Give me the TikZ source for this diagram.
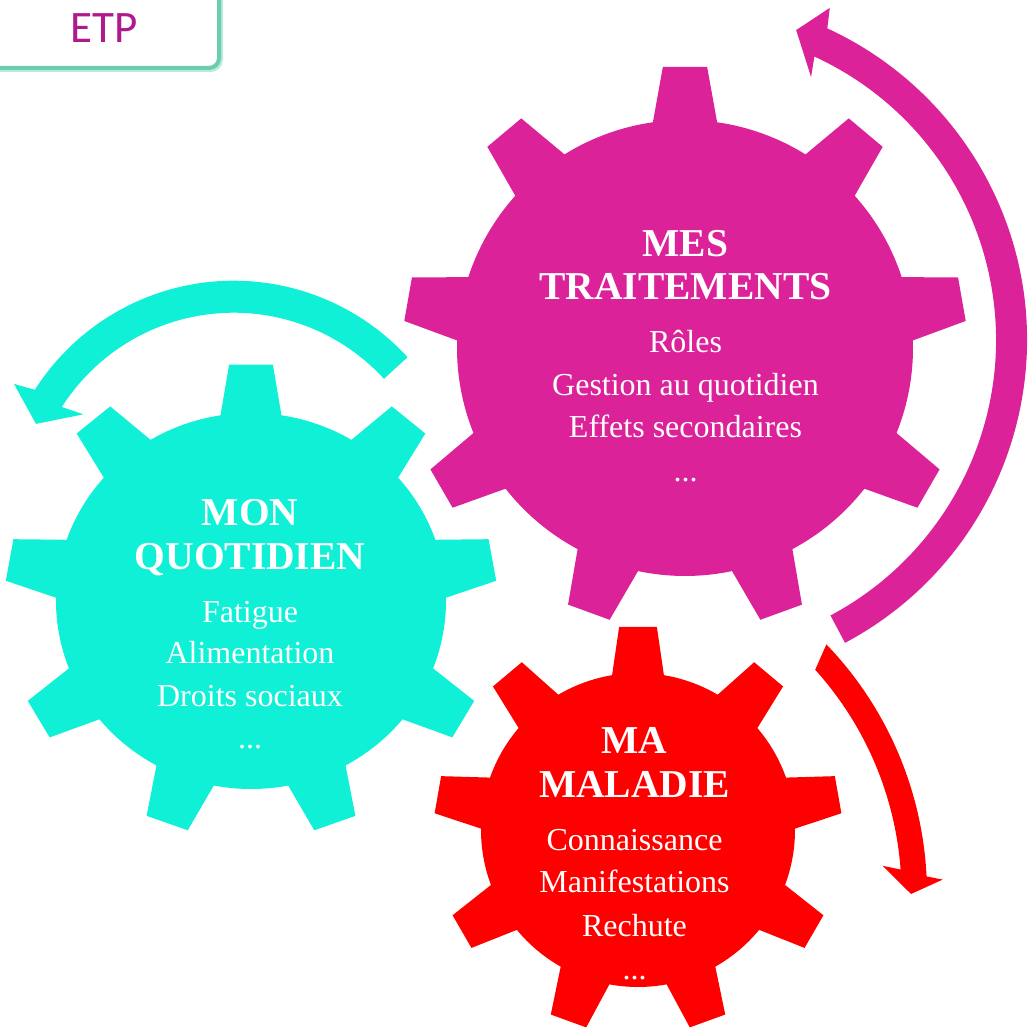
\documentclass[tikz,border=0pt]{standalone}
\usepackage{fontspec}
\setmainfont{Liberation Serif}
\newfontfamily\etpfont{Carlito}
\definecolor{gmag}{RGB}{220,34,153}
\definecolor{gcyan}{RGB}{16,240,214}
\definecolor{gred}{RGB}{255,0,0}
\definecolor{etpborder}{RGB}{105,205,175}
\definecolor{etpshadow}{RGB}{190,232,220}
\definecolor{etptext}{RGB}{176,26,140}
% #1 colour, #2 cx, #3 cy, #4 rx, #5 ry, #6 outer factor, #7 base half angle, #8 outer half angle
\newcommand{\mygear}[8]{%
  \begin{scope}[shift={(#2,#3)}, xscale=#4, yscale=#5]
    \fill[#1] (90+#7:1) \foreach \a in {90,50,...,-230} {
      -- (\a+#7:1) -- (\a+#8:#6) -- (\a-#8:#6) -- (\a-#7:1)
      arc[start angle=\a-#7, end angle=\a-40+#7, radius=1] } -- cycle;
  \end{scope}}
\tikzset{
  gtitle/.style={text=white, font=\fontsize{39.5}{44}\selectfont\bfseries, anchor=base, inner sep=0pt},
  gbody/.style={text=white, font=\fontsize{32}{40}\selectfont, anchor=base, inner sep=0pt},
}
\begin{document}
\begin{tikzpicture}[x=1pt,y=1pt]
\useasboundingbox (0,0) rectangle (1034,1029);
\clip (0,0) rectangle (1034,1029);
\fill[white] (0,0) rectangle (1034,1029);

% ETP box
\draw[etpshadow, line width=3pt, rounded corners=11pt] (-20,958.5) rectangle (221.5,1045);
\draw[etpborder, line width=4pt, fill=white, rounded corners=10pt] (-20,961) rectangle (219,1045);
\node[anchor=base, inner sep=0pt, text=etptext, font=\etpfont\fontsize{45}{48}\selectfont] (etp) at (104.5,986) {ETP};

% gears
\mygear{gmag}{685}{681}{228}{228}{1.237}{8.1}{4.5}
\mygear{gcyan}{251}{428}{195}{188}{1.262}{9}{5.1}
\mygear{gred}{638}{199}{157}{157}{1.30}{9.5}{5.3}

% magenta circular arrow
\begin{scope}[shift={(684,689)}]
\fill[gmag] (-62:343) arc[start angle=-62, end angle=65.3, radius=343]
  -- (66.3:362.7) -- (70.1:329.6) -- (64.2:292) -- (65.3:312)
  arc[start angle=65.3, end angle=-62, radius=312] -- cycle;
\end{scope}

% cyan circular arrow
\begin{scope}[shift={(233.7,512.5)}]
\fill[gcyan] (42.5:235.8) arc[start angle=42.5, end angle=147.5, radius=235.8]
  -- (148.9:256.6) -- (154.9:218.3) -- (145.8:181.8) -- (147.5:203.8)
  arc[start angle=147.5, end angle=42.5, radius=203.8] -- cycle;
\end{scope}

% red circular arrow
\begin{scope}[shift={(567,135)}]
\fill[gred] (43.9:360) arc[start angle=43.9, end angle=2.8, radius=360]
  -- (2.2:376) -- (0:344) -- (5.1:317) -- (4.2:334.5)
  arc[start angle=4.2, end angle=42.1, radius=334.5] -- cycle;
\end{scope}

% magenta gear text
\node[gtitle] (m1) at (685.5,772) {MES};
\node[gtitle] (m2) at (685.5,729) {TRAITEMENTS};
\node[gbody] (m3) at (685.5,676) {Rôles};
\node[gbody] (m4) at (685.5,633) {Gestion au quotidien};
\node[gbody] (m5) at (685.5,591) {Effets secondaires};
\node[gbody] (m6) at (685.5,547) {...};

% cyan gear text
\node[gtitle] (c1) at (250,503) {MON};
\node[gtitle] (c2) at (250,459) {QUOTIDIEN};
\node[gbody] (c3) at (250,406) {Fatigue};
\node[gbody] (c4) at (250,365) {Alimentation};
\node[gbody] (c5) at (250,322) {Droits sociaux};
\node[gbody] (c6) at (250,280) {...};

% red gear text
\node[gtitle] (r1) at (634.5,275) {MA};
\node[gtitle] (r2) at (634.5,231) {MALADIE};
\node[gbody] (r3) at (634.5,178) {Connaissance};
\node[gbody] (r4) at (634.5,136) {Manifestations};
\node[gbody] (r5) at (634.5,93) {Rechute};
\node[gbody] (r6) at (634.5,50) {...};
\end{tikzpicture}
\end{document}
